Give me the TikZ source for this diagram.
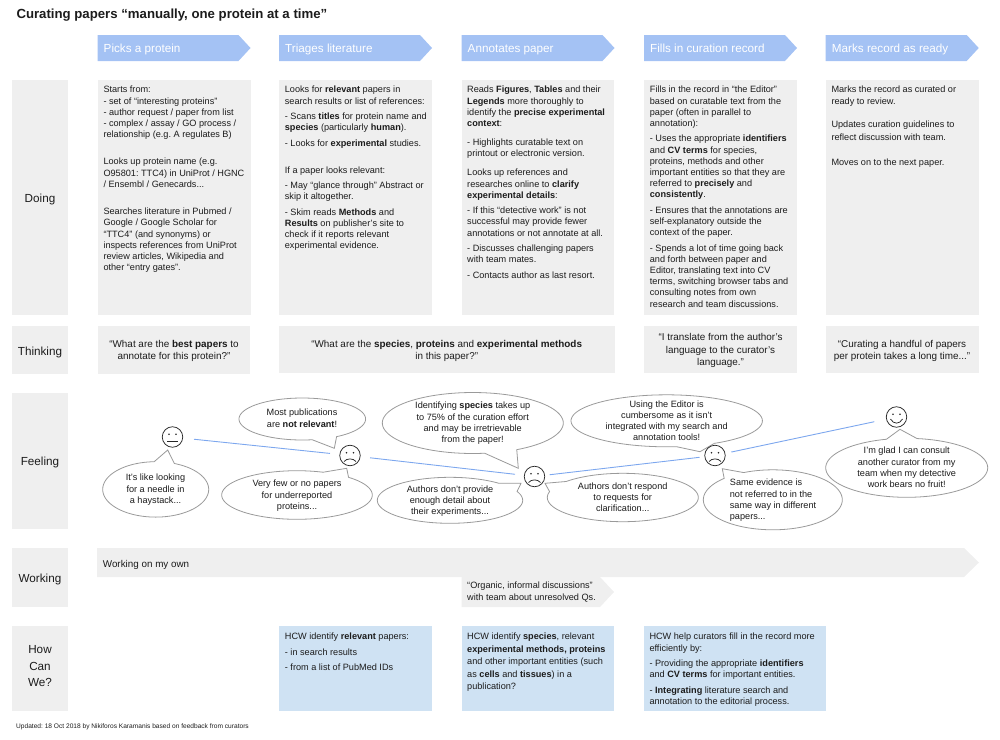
\documentclass[tikz,border=0pt]{standalone}
\usepackage{fontspec}
\setmainfont{Liberation Sans}
\frenchspacing
\definecolor{headblue}{HTML}{A4C2F4}
\definecolor{paneg}{HTML}{EFEFEF}
\definecolor{hcwblue}{HTML}{CFE2F3}
\definecolor{lineblue}{HTML}{7DA7EE}
\definecolor{bubg}{HTML}{9A9A9A}
\definecolor{inkc}{HTML}{1C1C1C}
\newcommand{\bodyf}{\fontsize{9.15}{11.2}\selectfont}
\newcommand{\bigf}{\fontsize{9.9}{12.2}\selectfont}
\newcommand{\labf}{\fontsize{11.7}{16.4}\selectfont}
\tikzset{
  txt/.style={inner sep=0pt,font=\bodyf,text=inkc,align=left,anchor=north west,execute at begin node={\rule{0pt}{8pt}}},
  ctxt/.style={txt,align=center,anchor=north},
  bigtxt/.style={ctxt,font=\bigf},
  labtxt/.style={inner sep=0pt,font=\labf,text=inkc,anchor=base},
  headtxt/.style={inner sep=0pt,font=\labf,text=white,anchor=base west},
  pane/.style={fill=paneg,draw=none},
  hcwpane/.style={fill=hcwblue,draw=none},
  headarrow/.style={fill=headblue,draw=none},
  bubbleline/.style={draw=bubg,fill=white,line width=0.8pt,line join=miter},
  facecirc/.style={circle,draw=black!85,line width=0.75pt,minimum size=20.5pt,inner sep=0pt},
  faceink/.style={draw=black!85,line width=0.75pt},
  journey/.style={draw=lineblue,line width=0.9pt},
}
\def\bubble(#1,#2,#3,#4)(#5,#6)(#7,#8)(#9){%
  \pgfmathsetmacro\bubA{atan2((#6-#2)/#4,(#5-#1)/#3)}%
  \pgfmathsetmacro\bubB{atan2((#8-#2)/#4,(#7-#1)/#3)}%
  \pgfmathsetmacro\bubD{mod(\bubA-\bubB+720,360)}%
  \pgfmathsetmacro\bubD{\bubD>180 ? \bubD : \bubD-360}%
  \draw[bubbleline] plot[domain=0:1,samples=90,variable=\t]
    ({#1+#3*cos(\bubB+\t*\bubD)},{#2+#4*sin(\bubB+\t*\bubD)}) -- (#9) -- cycle;
}
\newcommand{\facenode}[4]{%
  \node[facecirc] (#1) at (#2,#3) {};
  \fill[black!85] ({#2-3.5},{#3-2.7}) circle (0.9);
  \fill[black!85] ({#2+3.5},{#3-2.7}) circle (0.9);
  \ifcase#4\relax
    \draw[faceink] ({#2-5.5},{#3+4.5}) -- ({#2+5.5},{#3+4.5});
  \or
    \draw[faceink] ({#2-6},{#3+6}) .. controls ({#2-3},{#3+2.5}) and ({#2+3},{#3+2.5}) .. ({#2+6},{#3+6});
  \or
    \draw[faceink] ({#2-6},{#3+2}) .. controls ({#2-3},{#3+7.5}) and ({#2+3},{#3+7.5}) .. ({#2+6},{#3+2});
  \fi
}
\newcommand{\headar}[3]{%
  \fill[headarrow] (#1,35) -- ({#1+141},35) -- ({#1+153},48) -- ({#1+141},61) -- (#1,61) -- cycle;
  \node[headtxt] (#2) at ({#1+6},52.3) {#3};
}
\begin{document}
\begin{tikzpicture}[x=1pt,y=-1pt]
\useasboundingbox (0,0) rectangle (1000,739);
% title
\node[inner sep=0pt,anchor=base west,font=\fontsize{13.2}{16}\selectfont\bfseries,text=inkc] (title) at (16.3,18.6) {Curating papers “manually, one protein at a time”};
% header arrows
\headar{97.5}{h1}{Picks a protein}
\headar{279}{h2}{Triages literature}
\headar{461.5}{h3}{Annotates paper}
\headar{644}{h4}{Fills in curation record}
\headar{825.7}{h5}{Marks record as ready}
% row labels
\fill[pane] (12,80) rectangle (68,315);
\fill[pane] (12,326) rectangle (68,374);
\fill[pane] (12,393) rectangle (68,529);
\fill[pane] (12,548) rectangle (68,607);
\fill[pane] (12,626) rectangle (68,711);
\node[labtxt] (ldoing) at (40,202) {Doing};
\node[labtxt] (lthink) at (40,355) {Thinking};
\node[labtxt] (lfeel) at (40,465.5) {Feeling};
\node[labtxt] (lwork) at (40,582.5) {Working};
\node[inner sep=0pt,font=\labf,text=inkc,align=center,anchor=north,execute at begin node={\rule{0pt}{10pt}}] (lhow) at (40,645.5) {How\\Can\\We?};
% doing panes
\fill[pane] (97.5,80) rectangle (250.5,315);
\fill[pane] (279,80) rectangle (432,315);
\fill[pane] (461.5,80) rectangle (614,315);
\fill[pane] (644,80) rectangle (797,315);
\fill[pane] (825.7,80) rectangle (979,315);
\node[txt] (d1) at (103.3,86) {Starts from:\\
- set of “interesting proteins”\\
- author request / paper from list\\
- complex / assay / GO process /\\
relationship (e.g. A regulates B)\\[16.1pt]
Looks up protein name (e.g.\\
O95801: TTC4) in UniProt / HGNC\\
/ Ensembl / Genecards...\\[16.1pt]
Searches literature in Pubmed /\\
Google / Google Scholar for\\
“TTC4” (and synonyms) or\\
inspects references from UniProt\\
review articles, Wikipedia and\\
other “entry gates”.};
\node[txt] (d2) at (284.7,86) {Looks for \textbf{relevant} papers in\\
search results or list of references:\\[4.2pt]
- Scans \textbf{titles} for protein name and\\
\textbf{species} (particularly \textbf{human}).\\[4.2pt]
- Looks for \textbf{experimental} studies.\\[16pt]
If a paper looks relevant:\\[4.2pt]
- May “glance through” Abstract or\\
skip it altogether.\\[4.2pt]
- Skim reads \textbf{Methods} and\\
\textbf{Results} on publisher’s site to\\
check if it reports relevant\\
experimental evidence.};
\node[txt] (d3) at (467,86) {Reads \textbf{Figures}, \textbf{Tables} and their\\
\textbf{Legends} more thoroughly to\\
identify the \textbf{precise experimental}\\
\textbf{context}:\\[7.9pt]
- Highlights curatable text on\\
printout or electronic version.\\[8pt]
Looks up references and\\
researches online to \textbf{clarify}\\
\textbf{experimental details}:\\[4.2pt]
- If this “detective work” is not\\
successful may provide fewer\\
annotations or not annotate at all.\\[4.2pt]
- Discusses challenging papers\\
with team mates.\\[4.2pt]
- Contacts author as last resort.};
\node[txt] (d4) at (649.7,86) {Fills in the record in “the Editor”\\
based on curatable text from the\\
paper (often in parallel to\\
annotation):\\[4.2pt]
- Uses the appropriate \textbf{identifiers}\\
and \textbf{CV terms} for species,\\
proteins, methods and other\\
important entities so that they are\\
referred to \textbf{precisely} and\\
\textbf{consistently}.\\[4.2pt]
- Ensures that the annotations are\\
self-explanatory outside the\\
context of the paper.\\[4.2pt]
- Spends a lot of time going back\\
and forth between paper and\\
Editor, translating text into CV\\
terms, switching browser tabs and\\
consulting notes from own\\
research and team discussions.};
\node[txt] (d5) at (831.3,86) {Marks the record as curated or\\
ready to review.\\[12.5pt]
Updates curation guidelines to\\[1.1pt]
reflect discussion with team.\\[13.8pt]
Moves on to the next paper.};
% thinking panes
\fill[pane] (97.5,326) rectangle (250,374);
\fill[pane] (279,326) rectangle (614.5,373);
\fill[pane] (644,326) rectangle (797,373);
\fill[pane] (825.7,326) rectangle (979,373);
\node[bigtxt] (t1) at (174,340) {“What are the \textbf{best papers} to\\annotate for this protein?”};
\node[bigtxt] (t2) at (446.7,340) {“What are the \textbf{species}, \textbf{proteins} and \textbf{experimental methods}\\in this paper?”};
\node[bigtxt] (t3) at (720.5,333.5) {“I translate from the author’s\\language to the curator’s\\language.”};
\node[bigtxt] (t4) at (902,340) {“Curating a handful of papers\\per protein takes a long time...”};
% feeling bubbles
\bubble(155.7,489.4,53,27.7)(154.3,461.7)(174,464)(167.7,450)
\bubble(302.3,419,63.3,21)(311.7,438.3)(336.7,436.7)(334.3,448.3)
\bubble(297,495,75.3,24.3)(323.3,472.3)(347.3,477.7)(346.7,468.3)
\bubble(472.8,423,90.5,30.5)(485,453.3)(517.3,450)(518.3,468.3)
\bubble(450,500.3,72.7,23)(503.3,481.7)(515,491.7)(521,483.3)
\bubble(622.8,497.5,75.5,24.2)(566.7,481.7)(550.7,491.7)(545,483.3)
\bubble(666.7,420.8,95.7,26)(676.7,446.7)(713,442.7)(700,451.7)
\bubble(772.8,499.8,69.5,30)(745,474)(724,478.3)(722.3,468.7)
\bubble(906.7,467.8,81,29.5)(886.7,439.3)(916.7,439.3)(900,429.3)
\node[ctxt] (b1) at (155.5,474) {It’s like looking\\for a needle in\\a haystack...};
\node[ctxt] (b2) at (302,409) {Most publications\\are \textbf{not relevant}!};
\node[ctxt] (b3) at (297,480) {Very few or no papers\\for underreported\\proteins...};
\node[ctxt] (b4) at (472.7,402) {Identifying \textbf{species} takes up\\to 75\% of the curation effort\\and may be irretrievable\\from the paper!};
\node[ctxt] (b5) at (450,485.5) {Authors don’t provide\\enough detail about\\their experiments...};
\node[ctxt] (b6) at (622.7,482.5) {Authors don’t respond\\to requests for\\clarification...};
\node[ctxt] (b7) at (666.7,400.5) {Using the Editor is\\cumbersome as it isn’t\\integrated with my search and\\annotation tools!};
\node[txt] (b8) at (729.7,479) {Same evidence is\\not referred to in the\\same way in different\\papers...};
\node[ctxt] (b9) at (906.7,447) {I’m glad I can consult\\another curator from my\\team when my detective\\work bears no fruit!};
% faces and journey line
\facenode{f1}{172.5}{437}{0}
\facenode{f2}{350}{455.5}{1}
\facenode{f3}{534.5}{476.5}{1}
\facenode{f4}{715}{455.5}{1}
\facenode{f5}{896.5}{417}{2}
\draw[journey,shorten <=11pt,shorten >=9.5pt] (f1) -- (f2);
\draw[journey,shorten <=9.5pt,shorten >=9pt] (f2) -- (f3);
\draw[journey,shorten <=4.5pt,shorten >=5pt] (f3) -- (f4);
\draw[journey,shorten <=6pt,shorten >=12pt] (f4) -- (f5);
% working
\fill[pane] (97,548) -- (964,548) -- (979,562.5) -- (964,577) -- (97,577) -- cycle;
\fill[pane] (461.5,577) -- (600,577) -- (614,592) -- (600,607) -- (461.5,607) -- cycle;
\node[txt,font=\fontsize{9.85}{11.2}\selectfont] (w1) at (102.7,559) {Working on my own};
\node[txt] (w2) at (467,582) {“Organic, informal discussions”\\with team about unresolved Qs.};
% how can we
\fill[hcwpane] (279,626) rectangle (432,711);
\fill[hcwpane] (461.5,626) rectangle (614,711);
\fill[hcwpane] (644,626) rectangle (826,711);
\node[txt] (c1) at (284.7,633) {HCW identify \textbf{relevant} papers:\\[4.2pt]
- in search results\\[4.2pt]
- from a list of PubMed IDs};
\node[txt] (c2) at (467,633) {HCW identify \textbf{species}, relevant\\[1.2pt]
\textbf{experimental methods, proteins}\\[1.2pt]
and other important entities (such\\[1.2pt]
as \textbf{cells} and \textbf{tissues}) in a\\[1.2pt]
publication?};
\node[txt] (c3) at (649.3,633) {HCW help curators fill in the record more\\
efficiently by:\\[4.2pt]
- Providing the appropriate \textbf{identifiers}\\
and \textbf{CV terms} for important entities.\\[4.2pt]
- \textbf{Integrating} literature search and\\
annotation to the editorial process.};
% footer
\node[inner sep=0pt,anchor=base west,font=\fontsize{6.6}{8}\selectfont,text=inkc] (foot) at (16,728.5) {Updated: 18 Oct 2018 by Nikiforos Karamanis based on feedback from curators};
\end{tikzpicture}
\end{document}
